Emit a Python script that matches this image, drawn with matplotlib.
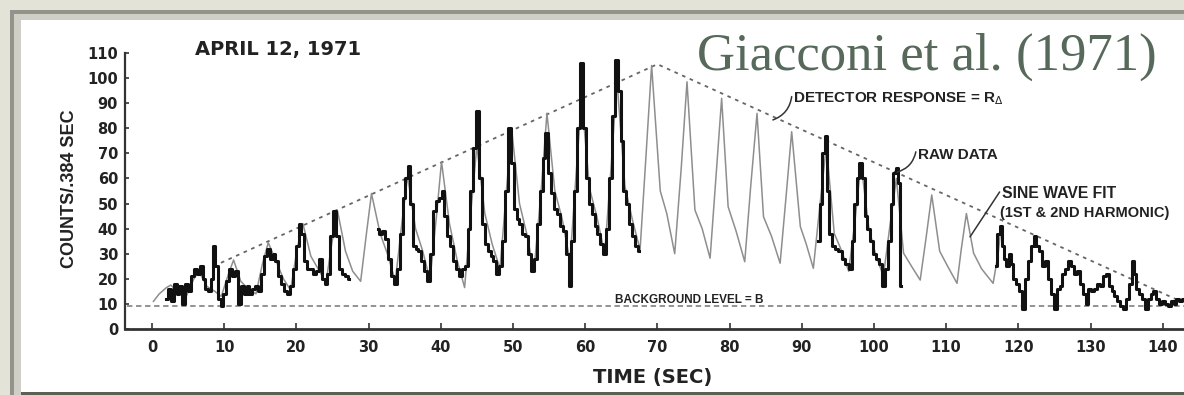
import numpy as np
import matplotlib
matplotlib.use("Agg")
import matplotlib.pyplot as plt
from matplotlib.patches import Rectangle

# ---------------------------------------------------------------- data
# Raw counting-rate data (counts per 0.384 s), observed stretches
raw_a_t = [2.0, 2.4, 2.8, 3.2, 3.6, 4.0, 4.4, 4.8, 5.2, 5.6, 6.0, 6.4, 6.8, 7.2, 7.6,
           8.0, 8.3, 8.6, 8.9, 9.3, 9.7, 10.1, 10.5, 10.9, 11.3, 11.7, 12.1, 12.5, 12.9,
           13.3, 13.7, 14.1, 14.5, 14.9, 15.3, 15.7, 16.1, 16.5, 16.9, 17.3, 17.7, 18.1,
           18.5, 18.9, 19.3, 19.7, 20.1, 20.5, 20.9, 21.3, 21.7, 22.1, 22.5, 22.9, 23.3,
           23.7, 24.1, 24.5, 24.9, 25.3, 25.7, 26.1, 26.5, 26.9, 27.3]
raw_a_c = [12, 16, 11, 18, 14, 17, 10, 18, 15, 21, 24, 22, 25, 20, 16,
           15, 20, 33, 25, 12, 9, 14, 19, 24, 21, 23, 10, 17, 14,
           17, 14, 16, 17, 15, 22, 29, 32, 28, 30, 27, 21, 18,
           15, 14, 17, 24, 33, 42, 38, 27, 24, 24, 22, 23, 28,
           20, 18, 22, 37, 47, 37, 24, 22, 21, 20]

raw_b_t = [31.3, 31.7, 32.1, 32.5, 32.9, 33.3, 33.7, 34.1, 34.5, 34.9, 35.3, 35.6, 35.9,
           36.3, 36.7, 37.1, 37.5, 37.9, 38.3, 38.7, 39.1, 39.5, 39.9, 40.3, 40.7, 41.1,
           41.5, 41.9, 42.3, 42.7, 43.1, 43.5, 43.9, 44.3, 44.7, 45.1, 45.5, 45.9, 46.3,
           46.7, 47.1, 47.5, 47.9, 48.3, 48.7, 49.1, 49.5, 49.9, 50.3, 50.7, 51.1, 51.5,
           51.9, 52.3, 52.7, 53.1, 53.5, 53.9, 54.3, 54.7, 55.1, 55.5, 55.9, 56.3, 56.7,
           57.1, 57.5, 57.9, 58.3, 58.7, 59.1, 59.5, 59.9, 60.3, 60.7, 61.1, 61.5, 61.9,
           62.3, 62.7, 63.1, 63.5, 63.9, 64.3, 64.7, 65.1, 65.5, 65.9, 66.3, 66.7, 67.1,
           67.5]
raw_b_c = [40, 38, 39, 36, 28, 21, 18, 24, 38, 52, 60, 65, 50,
           33, 32, 31, 27, 23, 19, 30, 47, 51, 52, 55, 45, 37,
           33, 27, 24, 21, 24, 25, 40, 55, 72, 87, 60, 42, 34,
           31, 29, 27, 22, 25, 35, 55, 80, 66, 48, 44, 42, 38,
           37, 30, 23, 28, 42, 55, 68, 78, 62, 54, 48, 46, 41,
           39, 30, 17, 35, 55, 80, 106, 80, 60, 50, 46, 41, 38,
           34, 30, 40, 60, 85, 107, 95, 75, 55, 50, 42, 37, 33,
           31]

raw_c_t = [92.3, 92.7, 93.0, 93.3, 93.6, 94.0, 94.4, 94.8, 95.3, 95.8, 96.3, 96.7, 97.1,
           97.5, 97.8, 98.1, 98.5, 98.9, 99.3, 99.7, 100.1, 100.5, 100.9, 101.3, 101.7,
           102.1, 102.5, 102.9, 103.2, 103.5, 103.8]
raw_c_c = [35, 50, 70, 77, 55, 38, 33, 32, 31, 28, 26, 24, 35,
           50, 60, 66, 60, 45, 40, 35, 30, 28, 26, 17, 24,
           35, 50, 62, 64, 58, 17]

raw_d_t = [116.9, 117.3, 117.6, 117.9, 118.2, 118.5, 118.8, 119.1, 119.5, 119.9, 120.3,
           120.7, 121.1, 121.5, 121.9, 122.3, 122.7, 123.1, 123.5, 123.9, 124.3, 124.7,
           125.1, 125.5, 125.9, 126.3, 126.7, 127.1, 127.5, 127.9, 128.3, 128.7, 129.1,
           129.5, 129.9, 130.3, 130.7, 131.1, 131.5, 131.9, 132.3, 132.7, 133.1, 133.5,
           133.9, 134.3, 134.7, 135.1, 135.5, 135.9, 136.2, 136.5, 136.9, 137.3, 137.7,
           138.1, 138.5, 138.9, 139.3, 139.7, 140.1, 140.5, 140.9, 141.3, 141.7, 142.1,
           142.5, 142.9]
raw_d_c = [25, 38, 41, 33, 28, 25, 30, 26, 20, 18, 15,
           8, 20, 27, 33, 37, 33, 31, 25, 27, 20, 14,
           8, 16, 17, 22, 24, 27, 25, 22, 23, 18, 14,
           10, 16, 15, 16, 18, 17, 21, 22, 17, 15, 13,
           11, 9, 8, 12, 18, 27, 22, 16, 14, 12, 8,
           12, 14, 15, 12, 10, 11, 10, 9, 11, 10, 12,
           11, 12]

# Sine-wave fit (1st & 2nd harmonic)
fit_t = [0.2, 1.0, 2.0, 2.6, 3.5, 4.6, 5.8, 6.5, 7.6, 8.7, 9.6, 10.6, 11.3, 12.3, 13.3,
         14.4, 15.3, 16.1, 17.2, 18.2, 19.2, 20.1, 20.9, 22.0, 23.0, 24.1, 24.9, 25.7,
         26.8, 27.8, 28.9, 29.7, 30.4, 31.6, 32.6, 33.7, 34.6, 35.4, 36.5, 37.5, 38.5,
         39.4, 40.1, 41.2, 42.3, 43.3, 44.2, 45.0, 46.1, 47.1, 48.2, 49.0, 49.8, 50.9,
         51.9, 52.9, 53.9, 54.7, 55.8, 56.8, 57.9, 58.7, 59.5, 60.6, 61.6, 62.7, 63.6,
         64.4, 65.5, 66.5, 67.6, 68.4, 69.2, 70.4, 71.3, 72.4, 73.3, 74.1, 75.2, 76.2,
         77.3, 78.1, 78.9, 79.8, 80.9, 82.1, 82.9, 83.8, 84.7, 85.8, 87.0, 87.8, 88.6,
         89.8, 90.6, 91.6, 92.5, 93.4, 94.5, 95.4, 96.5, 97.4, 98.2, 99.3, 100.2, 101.3,
         102.2, 103.1, 104.1, 105.2, 106.4, 107.2, 108.0, 109.1, 110.2, 111.5, 112.1,
         112.8, 113.8, 114.9, 116.5, 117.2, 117.6]
fit_c = [11, 14, 16.5, 17.5, 15, 12, 20, 23, 17, 15, 13, 22, 27.5, 19, 16,
         14, 26, 34.4, 27, 20, 15.5, 32, 42, 29, 24, 18.5, 34, 47,
         31, 23, 19, 38, 54, 38, 30, 19, 42, 61, 40, 31, 19.5,
         45, 66.7, 42, 27, 16.5, 48, 73, 46, 34, 24, 52, 80, 50,
         38, 23, 55, 86, 55, 44, 27, 60, 92, 56, 45, 30, 65,
         99, 57, 44, 31.5, 68, 105, 55, 46, 30, 64, 98.5, 47.4, 40,
         28.2, 60, 91.9, 48.7, 39, 26.8, 56, 85.9, 44.7, 37, 26.2, 52, 78.6,
         40.8, 34, 24.2, 49, 73, 38, 32, 23, 44, 66, 40, 30, 21,
         41, 60, 30.2, 25, 19.5, 36, 53.4, 31, 25, 18.2, 32,
         46, 30.2, 24, 18.2, 30, 41]

# Detector response envelope R_delta and background level B
envelope_t = [8.5, 70.0, 142.5]
envelope_c = [25.0, 105.5, 11.0]
background_level = 9.0

x_ticks = list(range(0, 150, 10))
y_ticks = list(range(0, 120, 10))

# ---------------------------------------------------------------- figure
W, H = 1184, 395
fig = plt.figure(figsize=(W / 100, H / 100), dpi=100)
fig.patch.set_facecolor("#e3e3d7")


def fx(x):
    return x / W


def fy(y):
    return 1 - y / H


# slide frame around the figure panel
frame = [
    ((fx(10), 0), 1 - fx(10), fy(10), "#93938b"),
    ((fx(14), 0), 1 - fx(14), fy(14), "#cfcfc8"),
    ((fx(21), 0), 1 - fx(21), fy(392), "#5c5f54"),
    ((fx(21), fy(392)), 1 - fx(21), fy(20) - fy(392), "white"),
]
for xy, w, h, col in frame:
    fig.patches.append(Rectangle(xy, w, h, transform=fig.transFigure,
                                 facecolor=col, edgecolor="none", zorder=-10))

ax = fig.add_axes([fx(125), fy(329), 1 - fx(125), fy(50.4) - fy(329)])
ax.set_zorder(1)
ax.set_facecolor("none")
ax.set_xlim(-3.74, 142.94)
ax.set_ylim(0, 111)

ink = "#222222"
label_font = ["Liberation Sans", "DejaVu Sans"]

# background level and detector response
ax.plot([-3.5, 142.9], [background_level, background_level], color="#8a8a8a", lw=1.3,
        linestyle=(0, (3, 2)), zorder=1)
ax.plot(envelope_t, envelope_c, color="#666666", lw=1.3, linestyle=(0, (2, 2.6)), zorder=1)

# sine-wave fit
ax.plot(fit_t, fit_c, color="#8e8e8e", lw=1.1, zorder=2)

# raw data
for tt, cc in ((raw_a_t, raw_a_c), (raw_b_t, raw_b_c), (raw_c_t, raw_c_c), (raw_d_t, raw_d_c)):
    ax.plot(tt, cc, color="#111111", lw=2.2, drawstyle="steps-mid", zorder=3)

# axes styling
for side in ("top", "right"):
    ax.spines[side].set_visible(False)
ax.spines["left"].set_bounds(0, 110)
ax.spines["left"].set_color("#333333")
ax.spines["bottom"].set_color("#333333")
ax.spines["left"].set_linewidth(1.6)
ax.spines["bottom"].set_linewidth(2.0)
ax.set_xticks(x_ticks)
ax.set_yticks(y_ticks)
ax.set_xticklabels([str(v) for v in x_ticks])
ax.set_yticklabels([str(v) for v in y_ticks])
ax.tick_params(axis="both", direction="in", colors="#333333", labelcolor=ink,
               width=1.2)
ax.tick_params(axis="x", length=4, pad=8)
ax.tick_params(axis="y", length=3, pad=5)
for lab in ax.get_xticklabels() + ax.get_yticklabels():
    lab.set_fontfamily("DejaVu Sans")
    lab.set_fontweight("bold")
    lab.set_fontsize(10.5)

# titles and axis labels
ax.text(6.0, 111.5, "APRIL 12, 1971", fontsize=14, fontweight="bold",
        family="DejaVu Sans", color=ink, ha="left", va="center", clip_on=False)
ax.text(69.4, -19.5, "TIME (SEC)", fontsize=14, fontweight="bold",
        family="DejaVu Sans", color=ink, ha="center", va="center", clip_on=False)
ax.text(-11.4, 55.8, "COUNTS/.384 SEC", fontsize=13, fontweight="bold",
        family=label_font, color=ink, ha="center", va="center", rotation=90,
        clip_on=False)

# annotations
ann = dict(fontsize=11, fontweight="bold", family=label_font, color=ink,
           ha="left", va="baseline", clip_on=False)
ax.text(64.1, 10.4, "BACKGROUND LEVEL = B", **{**ann, "fontsize": 8.5})
ax.text(88.8, 90.4, r"DETECTOR RESPONSE = R$_\Delta$", **ann)
ax.text(106.1, 67.7, "RAW DATA", **ann)
ax.text(117.7, 52.2, "SINE WAVE FIT", **{**ann, "fontsize": 11.3})
ax.text(117.5, 44.6, "(1ST & 2ND HARMONIC)", **{**ann, "fontsize": 10.5})

leader = dict(arrowstyle="-", color="#333333", lw=1.1, shrinkA=0, shrinkB=0)
ax.annotate("", xy=(86.0, 83.3), xytext=(88.6, 92.6),
            arrowprops={**leader, "connectionstyle": "arc3,rad=-0.3"})
ax.annotate("", xy=(103.2, 62.5), xytext=(105.8, 70.6),
            arrowprops={**leader, "connectionstyle": "arc3,rad=-0.3"})
ax.annotate("", xy=(113.3, 36.7), xytext=(117.4, 54.6),
            arrowprops={**leader, "connectionstyle": "arc3,rad=0.0"})

# citation
fig.text(fx(697), fy(70), "Giacconi et al. (1971)", fontsize=38,
         family=["Liberation Serif", "DejaVu Serif"], color="#56695a",
         ha="left", va="baseline", zorder=5)

fig.savefig("out.png", dpi=100, facecolor=fig.get_facecolor())
